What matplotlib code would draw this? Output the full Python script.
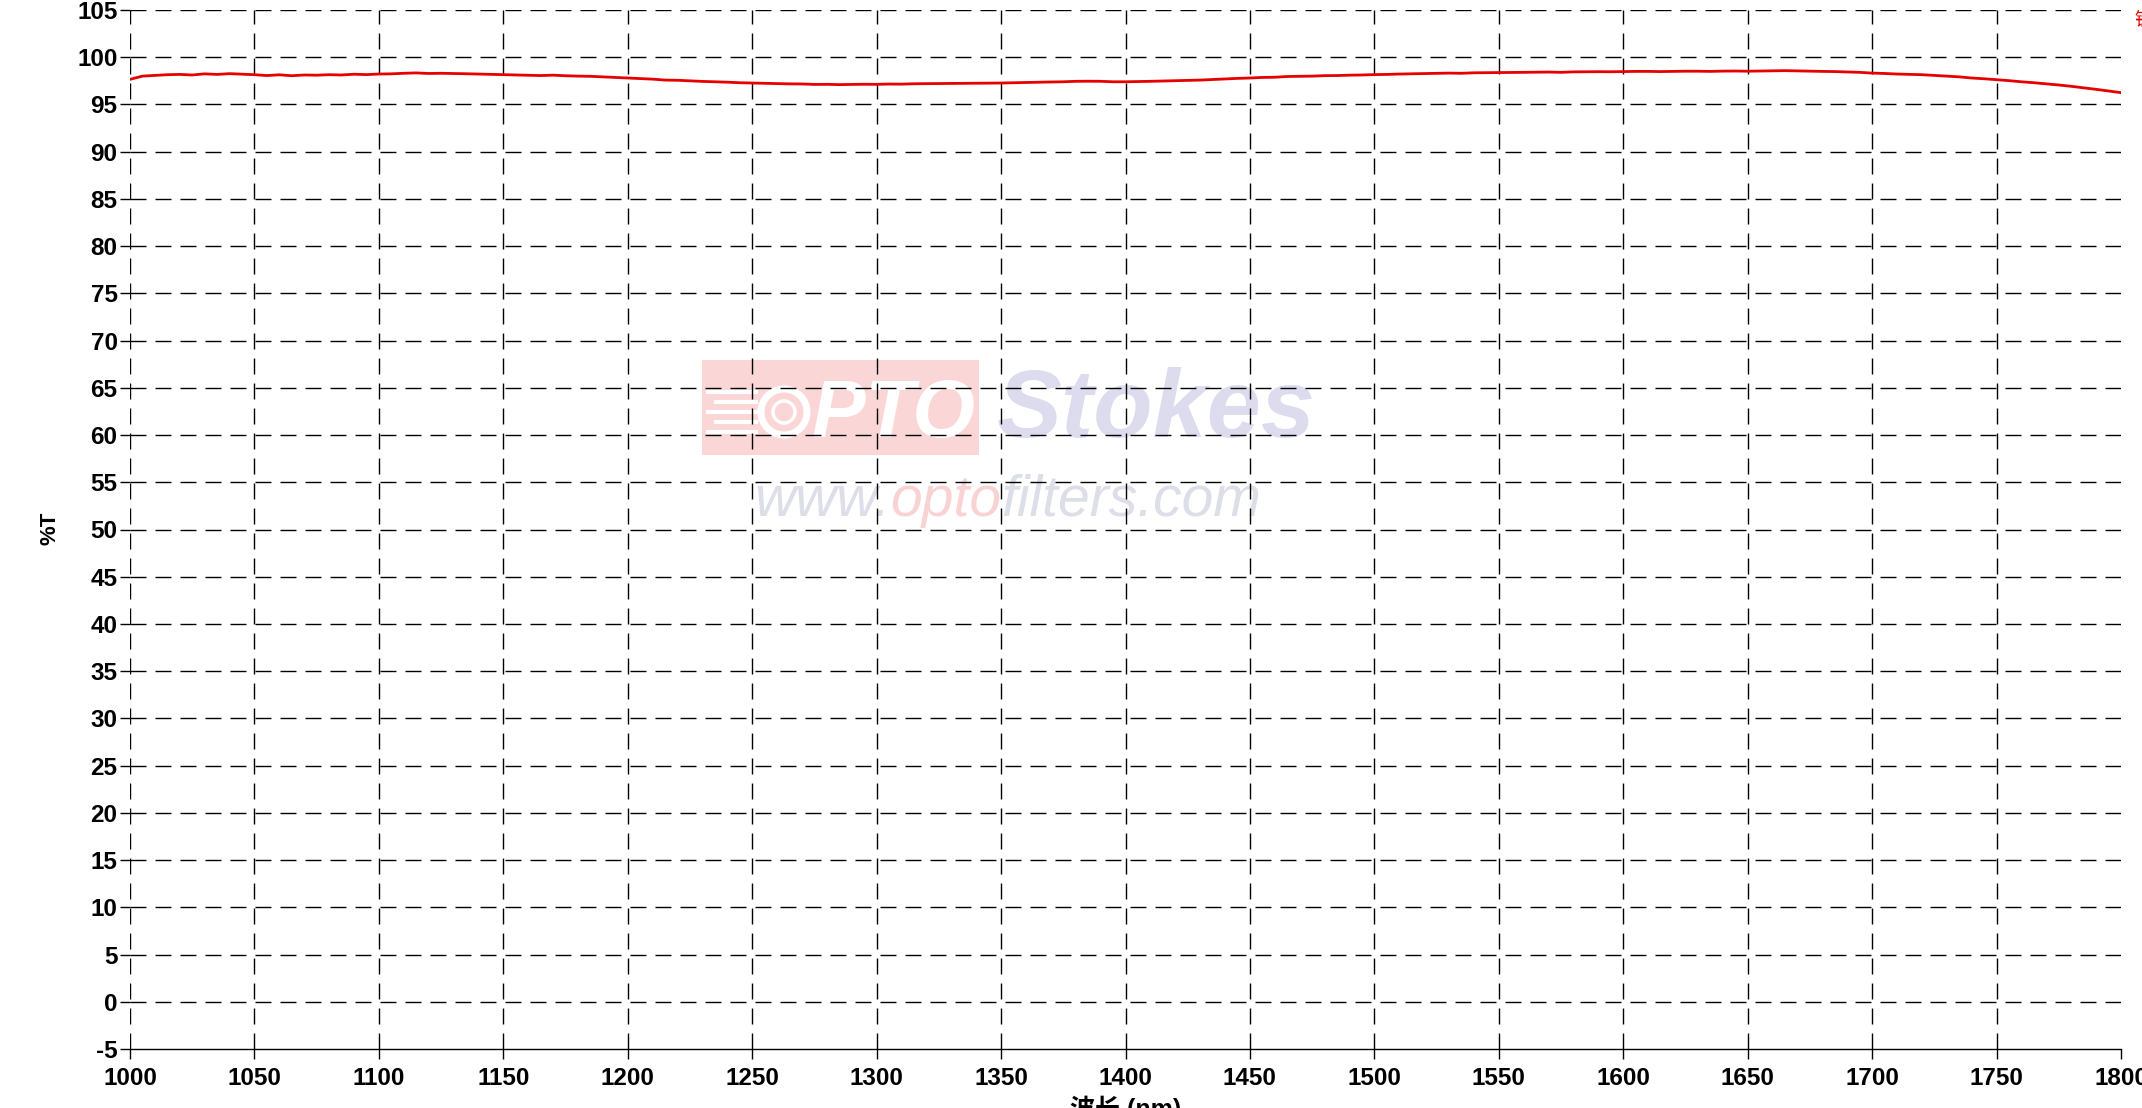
import matplotlib
matplotlib.use("Agg")
import matplotlib.pyplot as plt
from matplotlib.patches import Rectangle, Ellipse
import numpy as np

# ---------------- data ----------------
wavelength = list(range(1000, 1801, 5))
transmission = [
    97.66, 98.00, 98.08, 98.15, 98.18, 98.12, 98.24, 98.18, 98.26, 98.20,
    98.15, 98.06, 98.14, 98.04, 98.12, 98.10, 98.15, 98.12, 98.20, 98.16,
    98.22, 98.24, 98.30, 98.34, 98.28, 98.30, 98.28, 98.25, 98.22, 98.18,
    98.16, 98.12, 98.10, 98.06, 98.10, 98.04, 98.00, 97.98, 97.92, 97.86,
    97.80, 97.74, 97.68, 97.58, 97.56, 97.50, 97.44, 97.40, 97.36, 97.30,
    97.27, 97.24, 97.22, 97.18, 97.17, 97.12, 97.13, 97.10, 97.12, 97.14,
    97.13, 97.16, 97.15, 97.19, 97.20, 97.22, 97.23, 97.24, 97.25, 97.26,
    97.27, 97.30, 97.32, 97.36, 97.38, 97.40, 97.45, 97.46, 97.45, 97.40,
    97.40, 97.42, 97.45, 97.48, 97.52, 97.55, 97.58, 97.64, 97.70, 97.76,
    97.80, 97.86, 97.88, 97.96, 97.98, 98.00, 98.05, 98.06, 98.10, 98.12,
    98.16, 98.18, 98.22, 98.24, 98.27, 98.30, 98.32, 98.30, 98.35, 98.36,
    98.37, 98.38, 98.40, 98.42, 98.43, 98.40, 98.45, 98.46, 98.47, 98.46,
    98.48, 98.50, 98.50, 98.48, 98.50, 98.52, 98.52, 98.50, 98.53, 98.54,
    98.52, 98.54, 98.56, 98.58, 98.55, 98.53, 98.50, 98.48, 98.44, 98.40,
    98.32, 98.28, 98.22, 98.18, 98.15, 98.08, 98.00, 97.92, 97.80, 97.72,
    97.62, 97.52, 97.40, 97.30, 97.18, 97.06, 96.92, 96.76, 96.60, 96.42,
    96.25,
]
x_ticks = list(range(1000, 1801, 50))
y_ticks = list(range(-5, 106, 5))
x_label = "波长 (nm)"
y_label = "%T"

# ---------------- figure ----------------
W, H, DPI = 2142, 1108, 100
plt.rcParams['lines.scale_dashes'] = False
fig = plt.figure(figsize=(W / DPI, H / DPI), dpi=DPI)
fig.patch.set_facecolor('white')

L, R, T, B = 130, 2121, 10, 1049
ax = fig.add_axes([L / W, 1 - B / H, (R - L) / W, (B - T) / H])
ax.patch.set_alpha(0)

ax.plot(wavelength, transmission, color='#e60000', lw=2.0, zorder=3)

ax.set_xlim(1000, 1800)
ax.set_ylim(-5, 105)
ax.set_xticks(x_ticks)
ax.set_yticks(y_ticks)

tick_font = dict(family=['Liberation Sans', 'DejaVu Sans'], weight='bold', size=17.5)
ax.set_xticklabels([str(v) for v in x_ticks], fontdict=tick_font)
ax.set_yticklabels([str(v) for v in y_ticks], fontdict=tick_font)
ax.tick_params(axis='both', direction='out', length=7, width=1.0, color='black')
ax.tick_params(axis='x', pad=6)
ax.tick_params(axis='y', pad=2)

for s in ['top', 'right', 'left']:
    ax.spines[s].set_visible(False)
ax.spines['bottom'].set_linewidth(1.0)

ax.grid(True, color='black', lw=1.0, linestyle=(0, (11.5, 6.5)))
ax.xaxis.get_gridlines()[-1].set_visible(False)
ax.yaxis.get_gridlines()[0].set_visible(False)

cx = (L + R) / 2 / W
fig.text(cx, 1 - 1096 / H, x_label, ha='center', va='top',
         family=['Liberation Sans', 'Noto Sans CJK SC'], weight='bold', size=18)
fig.text(50 / W, 1 - 528 / H, y_label, ha='center', va='center', rotation=90,
         family=['Liberation Sans', 'DejaVu Sans'], weight='bold', size=16)
fig.text(2134 / W, 1 - 20 / H, "镀", ha='left', va='center', color='#e60000',
         family=['Noto Sans CJK SC', 'DejaVu Sans'], size=13)

# ---------------- watermark ----------------
def fx(px):
    return px / W

def fy(py):
    return 1 - py / H

rect = Rectangle((fx(702), fy(455)), fx(979) - fx(702), (455 - 360) / H,
                 transform=fig.transFigure, facecolor='#fbd6d6', edgecolor='none', zorder=-5)
fig.patches.append(rect)
for i, yy in enumerate([392, 402, 412, 422, 432]):
    fig.add_artist(plt.Line2D([fx(708 + (i % 2) * 8), fx(756)], [fy(yy), fy(yy)],
                              transform=fig.transFigure, color='white', lw=3, zorder=-4))
fig.add_artist(Ellipse((fx(784), fy(412)), 46 / W, 46 / H, transform=fig.transFigure,
                       facecolor='#fbd6d6', edgecolor='white', lw=5, zorder=-4))
fig.add_artist(Ellipse((fx(784), fy(412)), 22 / W, 22 / H, transform=fig.transFigure,
                       facecolor='none', edgecolor='white', lw=2.5, zorder=-4))
fig.text(fx(812), fy(437), "PTO", ha='left', va='baseline', color='white',
         family='Liberation Sans', weight='bold', style='italic', size=58, zorder=-4)
fig.text(fx(997), fy(437), "Stokes", ha='left', va='baseline', color='#dcdcee',
         family='Liberation Sans', weight='bold', style='italic', size=70, zorder=-4)

url_parts = [("www.", '#dcdee8'), ("opto", '#f9d3d3'), ("filters.com", '#dcdee8')]
renderer = fig.canvas.get_renderer()
xpos = 754
for txt, col in url_parts:
    t = fig.text(fx(xpos), fy(516), txt, ha='left', va='baseline', color=col,
                 family='Liberation Sans', style='italic', size=41, zorder=-4)
    xpos += t.get_window_extent(renderer).width

fig.savefig("out.png", dpi=DPI)
